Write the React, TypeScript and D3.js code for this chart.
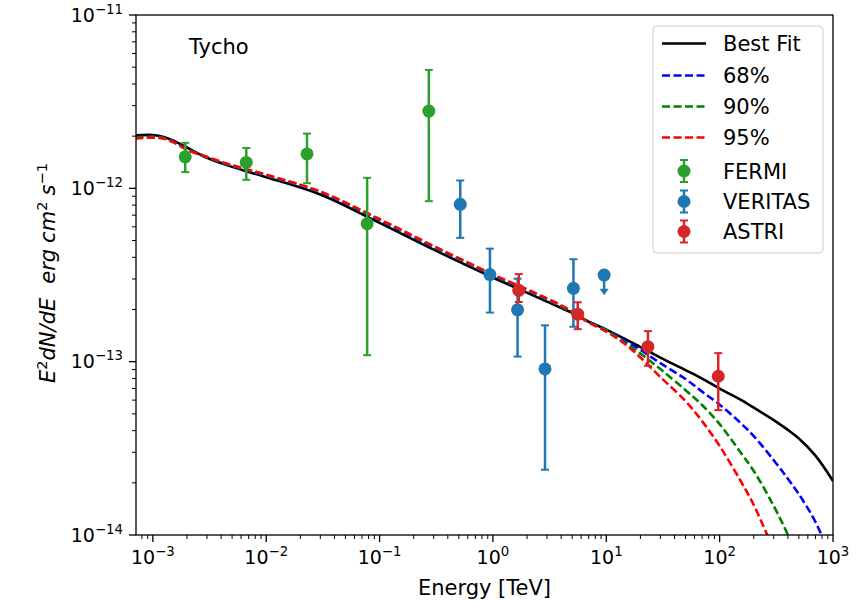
import React from 'react';
import * as d3 from 'd3';

const W = 866;
const H = 602;
const PLOT = { left: 136, right: 833, top: 15, bottom: 535 };
const FONT = '"DejaVu Sans", "Liberation Sans", sans-serif';

// x / y axis major tick exponents
const xMajorExps = [-3, -2, -1, 0, 1, 2, 3];
const yMajorExps = [-14, -13, -12, -11];

// model curves (energy in TeV, E^2 dN/dE in erg cm^-2 s^-1)
const curveEnergy = [7e-4, 1e-3, 1.25e-3, 1.5e-3, 2e-3, 3e-3, 5e-3, 1e-2, 3e-2, 0.1, 0.3, 1, 3, 5, 7, 10, 15, 20, 30, 50, 70, 100, 150, 200, 300, 400, 500, 700, 1000];
const bestFit = [2.02e-12, 2.03e-12, 1.98e-12, 1.89e-12, 1.72e-12, 1.5e-12, 1.33e-12, 1.16e-12, 9.21e-13, 6.32e-13, 4.43e-13, 3.06e-13, 2.22e-13, 1.91e-13, 1.7e-13, 1.532e-13, 1.341e-13, 1.214e-13, 1.056e-13, 8.94e-14, 7.99e-14, 6.99e-14, 6.08e-14, 5.43e-14, 4.6e-14, 4.04e-14, 3.6e-14, 2.87e-14, 2.05e-14];
const ci68 = [1.97e-12, 1.99e-12, 1.96e-12, 1.87e-12, 1.69e-12, 1.51e-12, 1.34e-12, 1.18e-12, 9.45e-13, 6.52e-13, 4.55e-13, 3.13e-13, 2.27e-13, 1.92e-13, 1.7e-13, 1.525e-13, 1.31e-13, 1.17e-13, 9.8e-14, 7.94e-14, 6.72e-14, 5.65e-14, 4.48e-14, 3.72e-14, 2.7e-14, 2.11e-14, 1.72e-14, 1.19e-14, 6.98e-15];
const ci90 = [1.96e-12, 1.98e-12, 1.95e-12, 1.86e-12, 1.68e-12, 1.51e-12, 1.35e-12, 1.19e-12, 9.52e-13, 6.58e-13, 4.6e-13, 3.16e-13, 2.29e-13, 1.93e-13, 1.69e-13, 1.52e-13, 1.272e-13, 1.113e-13, 9.06e-14, 6.85e-14, 5.62e-14, 4.36e-14, 3.05e-14, 2.34e-14, 1.47e-14, 9.99e-15, 6.7e-15];
const ci95 = [1.94e-12, 1.96e-12, 1.93e-12, 1.85e-12, 1.67e-12, 1.52e-12, 1.36e-12, 1.2e-12, 9.58e-13, 6.65e-13, 4.65e-13, 3.19e-13, 2.32e-13, 1.95e-13, 1.68e-13, 1.49e-13, 1.247e-13, 1.056e-13, 8.15e-14, 5.92e-14, 4.54e-14, 3.26e-14, 2.1e-14, 1.49e-14, 8.18e-15];

// FERMI
const fermiE = [1.93e-3, 6.67e-3, 0.0229, 0.0777, 0.272];
const fermiF = [1.52e-12, 1.41e-12, 1.58e-12, 6.25e-13, 2.79e-12];
const fermiLo = [1.24e-12, 1.12e-12, 1.07e-12, 1.09e-13, 8.43e-13];
const fermiHi = [1.83e-12, 1.71e-12, 2.07e-12, 1.15e-12, 4.82e-12];

// VERITAS
const veritasE = [0.515, 0.941, 1.65, 2.88, 5.13];
const veritasF = [8.09e-13, 3.18e-13, 1.99e-13, 9.08e-14, 2.65e-13];
const veritasLo = [5.18e-13, 1.92e-13, 1.07e-13, 2.38e-14, 1.59e-13];
const veritasHi = [1.11e-12, 4.49e-13, 3.01e-13, 1.62e-13, 3.9e-13];
// VERITAS upper limit
const veritasUlE = [9.57];
const veritasUlF = [3.16e-13];
const veritasUlTo = [2.42e-13];

// ASTRI
const astriE = [1.69, 5.6, 23.3, 97.2];
const astriF = [2.58e-13, 1.88e-13, 1.22e-13, 8.24e-14];
const astriLo = [2.21e-13, 1.54e-13, 9.46e-14, 5.25e-14];
const astriHi = [3.2e-13, 2.2e-13, 1.5e-13, 1.12e-13];

const COL_FERMI = '#2ca02c';
const COL_VERITAS = '#1f77b4';
const COL_ASTRI = '#d62728';

const legendLines = [
  { label: 'Best Fit', color: '#000000', dash: null },
  { label: '68%', color: '#0000ff', dash: '8 3.5' },
  { label: '90%', color: '#008000', dash: '8 3.5' },
  { label: '95%', color: '#ff0000', dash: '8 3.5' },
];
const legendPoints = [
  { label: 'FERMI', color: COL_FERMI },
  { label: 'VERITAS', color: COL_VERITAS },
  { label: 'ASTRI', color: COL_ASTRI },
];
const legendRowY = [43.5, 75.5, 106.5, 137.5, 171, 201.5, 231.5];

function ErrPoint({ cx, cy, yTop, yBot, color, r = 6.5, cap = 4 }) {
  return (
    <g>
      <line x1={cx} x2={cx} y1={yTop} y2={yBot} stroke={color} strokeWidth={2.5} />
      <line x1={cx - cap} x2={cx + cap} y1={yTop} y2={yTop} stroke={color} strokeWidth={2} />
      <line x1={cx - cap} x2={cx + cap} y1={yBot} y2={yBot} stroke={color} strokeWidth={2} />
      <circle cx={cx} cy={cy} r={r} fill={color} />
    </g>
  );
}

function Pow({ x, y, exp, anchor, size }) {
  return (
    <text x={x} y={y} textAnchor={anchor} fontSize={size} fontFamily={FONT} fill="#000">
      <tspan>10</tspan>
      <tspan dy={-0.42 * size} fontSize={size * 0.7}>{exp < 0 ? '\u2212' + Math.abs(exp) : String(exp)}</tspan>
    </text>
  );
}

export default function App() {
  const x = d3.scaleLog().domain([7.1e-4, 1e3]).range([PLOT.left, PLOT.right]);
  const y = d3.scaleLog().domain([1e-14, 1e-11]).range([PLOT.bottom, PLOT.top]);

  const mkLine = (vals: number[]) =>
    d3
      .line<number>()
      .x((_, i) => x(curveEnergy[i]))
      .y((v) => y(v))
      .curve(d3.curveCatmullRom.alpha(0.5))(vals) || '';

  const xMinor = x.ticks().filter((t) => {
    const e = Math.log10(t);
    return Math.abs(e - Math.round(e)) > 1e-6;
  });
  const yMinor = y.ticks().filter((t) => {
    const e = Math.log10(t);
    return Math.abs(e - Math.round(e)) > 1e-6;
  });

  const series = [
    { E: fermiE, F: fermiF, lo: fermiLo, hi: fermiHi, color: COL_FERMI },
    { E: veritasE, F: veritasF, lo: veritasLo, hi: veritasHi, color: COL_VERITAS },
  ];

  return (
    <svg width={W} height={H} style={{ position: 'absolute', left: 0, top: 0, background: '#fff' }} fontFamily={FONT}>
      <defs>
        <clipPath id="plotClip">
          <rect x={PLOT.left} y={PLOT.top} width={PLOT.right - PLOT.left} height={PLOT.bottom - PLOT.top} />
        </clipPath>
      </defs>
      <rect x={0} y={0} width={W} height={H} fill="#fff" />

      <g clipPath="url(#plotClip)">
        <path d={mkLine(bestFit)} fill="none" stroke="#000" strokeWidth={2.6} />
        <path d={mkLine(ci68)} fill="none" stroke="#0000ff" strokeWidth={2.6} strokeDasharray="8 3.5" />
        <path d={mkLine(ci90)} fill="none" stroke="#008000" strokeWidth={2.6} strokeDasharray="8 3.5" />
        <path d={mkLine(ci95)} fill="none" stroke="#ff0000" strokeWidth={2.6} strokeDasharray="8 3.5" />

        {series.map((s, si) =>
          s.E.map((e, i) => (
            <ErrPoint key={si + '-' + i} cx={x(e)} cy={y(s.F[i])} yTop={y(s.hi[i])} yBot={y(s.lo[i])} color={s.color} />
          ))
        )}
        {veritasUlE.map((e, i) => {
          const cx = x(e);
          const cy = y(veritasUlF[i]);
          const tip = y(veritasUlTo[i]);
          return (
            <g key={'ul' + i}>
              <line x1={cx} x2={cx} y1={cy} y2={tip - 4} stroke={COL_VERITAS} strokeWidth={2.5} />
              <path d={`M${cx - 4.5},${tip - 6.5} L${cx + 4.5},${tip - 6.5} L${cx},${tip} Z`} fill={COL_VERITAS} />
              <circle cx={cx} cy={cy} r={6.5} fill={COL_VERITAS} />
            </g>
          );
        })}
        {astriE.map((e, i) => (
          <ErrPoint key={'a' + i} cx={x(e)} cy={y(astriF[i])} yTop={y(astriHi[i])} yBot={y(astriLo[i])} color={COL_ASTRI} />
        ))}
      </g>

      {/* spines */}
      <rect x={PLOT.left} y={PLOT.top} width={PLOT.right - PLOT.left} height={PLOT.bottom - PLOT.top} fill="none" stroke="#000" strokeWidth={1.3} />

      {/* x ticks */}
      {xMajorExps.map((ex) => {
        const px = x(Math.pow(10, ex));
        return (
          <g key={'xt' + ex}>
            <line x1={px} x2={px} y1={PLOT.bottom} y2={PLOT.bottom + 7} stroke="#000" strokeWidth={1.3} />
            <Pow x={px} y={564} exp={ex} anchor="middle" size={19} />
          </g>
        );
      })}
      {xMinor.map((t, i) => (
        <line key={'xm' + i} x1={x(t)} x2={x(t)} y1={PLOT.bottom} y2={PLOT.bottom + 4} stroke="#000" strokeWidth={1} />
      ))}

      {/* y ticks */}
      {yMajorExps.map((ex) => {
        const py = y(Math.pow(10, ex));
        return (
          <g key={'yt' + ex}>
            <line x1={PLOT.left - 7} x2={PLOT.left} y1={py} y2={py} stroke="#000" strokeWidth={1.3} />
            <Pow x={123} y={py + 6.8} exp={ex} anchor="end" size={19} />
          </g>
        );
      })}
      {yMinor.map((t, i) => (
        <line key={'ym' + i} x1={PLOT.left - 4} x2={PLOT.left} y1={y(t)} y2={y(t)} stroke="#000" strokeWidth={1} />
      ))}

      {/* axis labels */}
      <text x={(PLOT.left + PLOT.right) / 2} y={595} textAnchor="middle" fontSize={21} fill="#000">
        Energy [TeV]
      </text>
      <text transform="translate(55,273) rotate(-90)" textAnchor="middle" fontSize={21} fill="#000" fontStyle="italic">
        <tspan>E</tspan>
        <tspan dy={-8} fontSize={14.7} fontStyle="normal">2</tspan>
        <tspan dy={8}>dN/dE</tspan>
        <tspan dx={14}>erg</tspan>
        <tspan dx={6}>cm</tspan>
        <tspan dy={-8} fontSize={14.7} fontStyle="normal">2</tspan>
        <tspan dy={8} dx={6}>s</tspan>
        <tspan dy={-8} fontSize={14.7} fontStyle="normal">{'\u22121'}</tspan>
      </text>

      {/* annotation */}
      <text x={189} y={54} fontSize={21} fill="#000">Tycho</text>

      {/* legend */}
      <rect x={653} y={26} width={170} height={227} rx={4} ry={4} fill="#fff" fillOpacity={0.8} stroke="#cccccc" strokeWidth={1} />
      {legendLines.map((l, i) => (
        <g key={'ll' + i}>
          <line x1={662} x2={706} y1={legendRowY[i]} y2={legendRowY[i]} stroke={l.color} strokeWidth={2.6} strokeDasharray={l.dash || undefined} />
          <text x={723} y={legendRowY[i] + 7.6} fontSize={21} fill="#000">{l.label}</text>
        </g>
      ))}
      {legendPoints.map((p, i) => {
        const cy = legendRowY[i + 4];
        return (
          <g key={'lp' + i}>
            <ErrPoint cx={684} cy={cy} yTop={cy - 11} yBot={cy + 11} color={p.color} />
            <text x={723} y={cy + 7.6} fontSize={21} fill="#000">{p.label}</text>
          </g>
        );
      })}
    </svg>
  );
}
